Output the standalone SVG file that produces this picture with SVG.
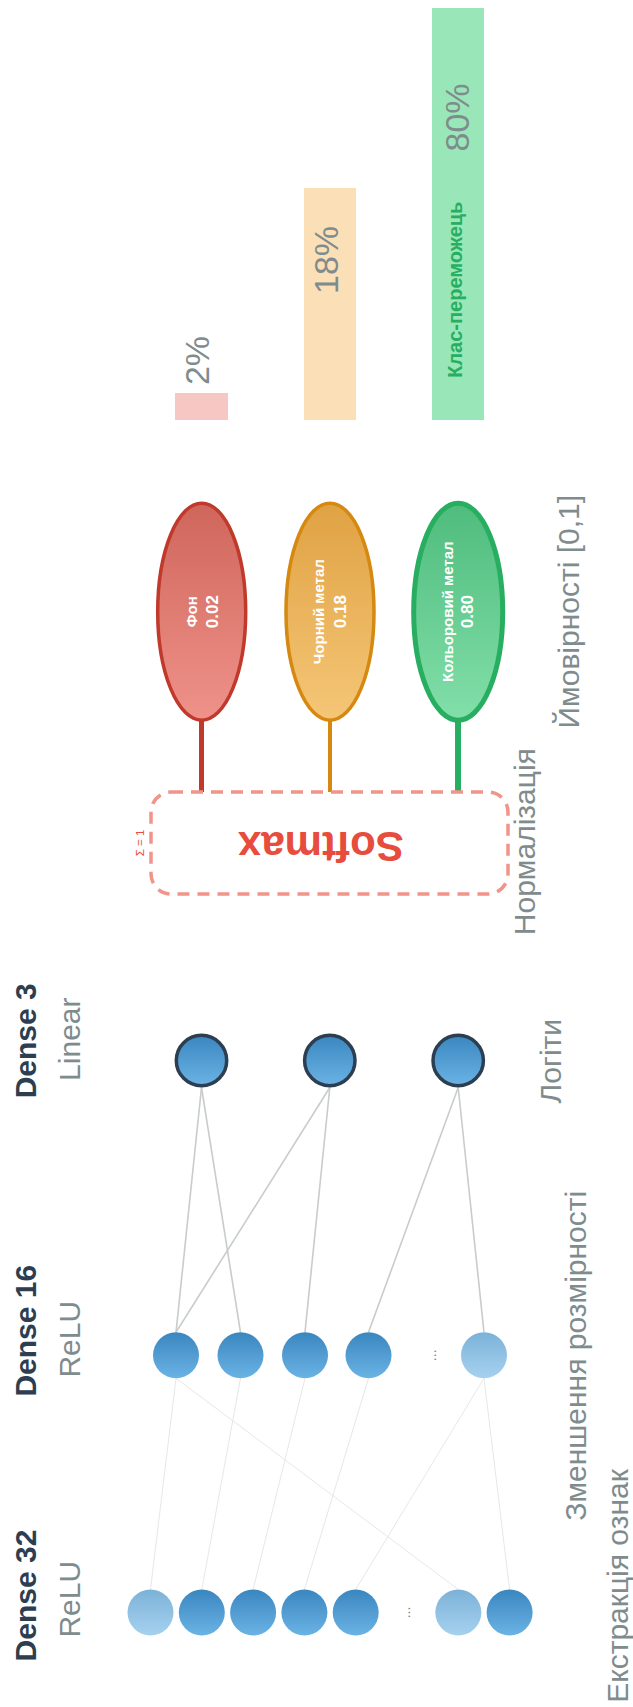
<svg xmlns="http://www.w3.org/2000/svg" width="633" height="1707" viewBox="0 0 633 1707">
  <defs>
    <linearGradient id="gNeuron" x1="0" y1="0" x2="0" y2="1">
      <stop offset="0" stop-color="#3a86bf"/>
      <stop offset="1" stop-color="#6ab3e5"/>
    </linearGradient>
    <linearGradient id="gNeuronDim" x1="0" y1="0" x2="0" y2="1">
      <stop offset="0" stop-color="#7cb2d8"/>
      <stop offset="1" stop-color="#a6d1ef"/>
    </linearGradient>
    <linearGradient id="gRed" x1="0" y1="0" x2="0" y2="1">
      <stop offset="0" stop-color="#cf665b"/>
      <stop offset="1" stop-color="#ef928a"/>
    </linearGradient>
    <linearGradient id="gOrange" x1="0" y1="0" x2="0" y2="1">
      <stop offset="0" stop-color="#e0a243"/>
      <stop offset="1" stop-color="#f5c677"/>
    </linearGradient>
    <linearGradient id="gGreen" x1="0" y1="0" x2="0" y2="1">
      <stop offset="0" stop-color="#4fbc7d"/>
      <stop offset="1" stop-color="#82dfa9"/>
    </linearGradient>
  </defs>
  <style>
    text { font-family: "Liberation Sans", Arial, sans-serif; }
    .layer { font-size: 30px; font-weight: bold; fill: #2c3e50; text-anchor: middle; }
    .act { font-size: 30px; fill: #7f8c8d; text-anchor: middle; }
    .note { font-size: 30px; fill: #7f8c8d; text-anchor: middle; }
    .pct { font-size: 34px; fill: #7f8c8d; text-anchor: middle; }
    .dots { font-size: 14px; fill: #7f8c8d; text-anchor: middle; }
    .cls { font-size: 15px; font-weight: bold; fill: #ffffff; text-anchor: middle; }
    .val { font-size: 17px; font-weight: bold; fill: #ffffff; text-anchor: middle; }
    .n { fill: url(#gNeuron); }
    .nd { fill: url(#gNeuronDim); }
    .logit { fill: url(#gNeuron); stroke: #2c3e50; stroke-width: 3.5; }
    .w1 { stroke: #e6e7e7; stroke-width: 1; }
    .w2 { stroke: #c9cccc; stroke-width: 1.6; }
  </style>

  <rect width="633" height="1707" fill="#ffffff"/>

  <!-- probability bars -->
  <g id="bars">
    <rect x="175" y="393" width="53" height="27" fill="#f6c7c3"/>
    <rect x="304" y="188" width="52" height="232" fill="#fbdfb6"/>
    <rect x="432" y="8" width="52" height="412" fill="#99e6b8"/>
    <text class="pct" transform="translate(209,360.5) rotate(-90)">2%</text>
    <text class="pct" transform="translate(338,260) rotate(-90)">18%</text>
    <text class="pct" transform="translate(469,117.5) rotate(-90)">80%</text>
    <text transform="translate(462,289.7) rotate(-90)" style="font-size:20px;font-weight:bold;fill:#27ae60;text-anchor:middle">Клас-переможець</text>
  </g>

  <!-- connectors -->
  <g id="connectors" fill="none">
    <!-- Dense 32 to Dense 16 -->
    <line class="w1" x1="150.5" y1="1589.5" x2="176" y2="1378.3"/>
    <line class="w1" x1="201.8" y1="1589.5" x2="240.5" y2="1378.3"/>
    <line class="w1" x1="253.1" y1="1589.5" x2="305" y2="1378.3"/>
    <line class="w1" x1="304.4" y1="1589.5" x2="368.5" y2="1378.3"/>
    <line class="w1" x1="355.7" y1="1589.5" x2="484" y2="1378.3"/>
    <line class="w1" x1="458.3" y1="1589.5" x2="176" y2="1378.3"/>
    <line class="w1" x1="509.6" y1="1589.5" x2="484" y2="1378.3"/>
    <!-- Dense 16 to Dense 3 -->
    <line class="w2" x1="176" y1="1332.3" x2="201.5" y2="1087.5"/>
    <line class="w2" x1="240.5" y1="1332.3" x2="201.5" y2="1087.5"/>
    <line class="w2" x1="176" y1="1332.3" x2="329.8" y2="1087.5"/>
    <line class="w2" x1="305" y1="1332.3" x2="329.8" y2="1087.5"/>
    <line class="w2" x1="368.5" y1="1332.3" x2="458.2" y2="1087.5"/>
    <line class="w2" x1="484" y1="1332.3" x2="458.2" y2="1087.5"/>
    <!-- class outputs to softmax -->
    <line x1="201.5" y1="718" x2="201.5" y2="792" stroke="#c0392b" stroke-width="5"/>
    <line x1="330" y1="718" x2="330" y2="792" stroke="#d68910" stroke-width="4"/>
    <line x1="458" y1="718" x2="458" y2="792" stroke="#27ae60" stroke-width="6"/>
  </g>

  <!-- Dense 32 layer -->
  <g id="dense32">
    <text class="layer" transform="translate(35.5,1595.5) rotate(-90)">Dense 32</text>
    <text class="act" transform="translate(79.5,1599.2) rotate(-90)">ReLU</text>
    <circle class="nd" cx="150.5" cy="1612.5" r="23"/>
    <circle class="n" cx="201.8" cy="1612.5" r="23"/>
    <circle class="n" cx="253.1" cy="1612.5" r="23"/>
    <circle class="n" cx="304.4" cy="1612.5" r="23"/>
    <circle class="n" cx="355.7" cy="1612.5" r="23"/>
    <text class="dots" transform="translate(410,1612.5) rotate(-90)">...</text>
    <circle class="nd" cx="458.3" cy="1612.5" r="23"/>
    <circle class="n" cx="509.6" cy="1612.5" r="23"/>
  </g>

  <!-- Dense 16 layer -->
  <g id="dense16">
    <text class="layer" transform="translate(35.5,1330.7) rotate(-90)">Dense 16</text>
    <text class="act" transform="translate(79.5,1339.2) rotate(-90)">ReLU</text>
    <circle class="n" cx="176" cy="1355.3" r="23"/>
    <circle class="n" cx="240.5" cy="1355.3" r="23"/>
    <circle class="n" cx="305" cy="1355.3" r="23"/>
    <circle class="n" cx="368.5" cy="1355.3" r="23"/>
    <text class="dots" transform="translate(436,1355.3) rotate(-90)">...</text>
    <circle class="nd" cx="484" cy="1355.3" r="23"/>
  </g>

  <!-- Dense 3 layer (logits) -->
  <g id="dense3">
    <text class="layer" transform="translate(36,1040.8) rotate(-90)">Dense 3</text>
    <text class="act" transform="translate(79.5,1039.2) rotate(-90)">Linear</text>
    <circle class="logit" cx="201.5" cy="1060.5" r="25.2"/>
    <circle class="logit" cx="329.8" cy="1060.5" r="25.2"/>
    <circle class="logit" cx="458.2" cy="1060.5" r="25.2"/>
  </g>

  <!-- Softmax block -->
  <g id="softmax">
    <rect x="151" y="792" width="357" height="102" rx="20" ry="20" fill="#ffffff" stroke="#f1948a" stroke-width="3.5" stroke-dasharray="12 8"/>
    <text transform="translate(320.8,832) rotate(180)" style="font-size:42px;font-weight:bold;fill:#e74c3c;text-anchor:middle">Softmax</text>
    <text transform="translate(143.5,843) rotate(-90)" style="font-size:11.5px;fill:#e74c3c;text-anchor:middle">Σ = 1</text>
  </g>

  <!-- class probability nodes -->
  <g id="class-background">
    <ellipse cx="201.7" cy="611.7" rx="44" ry="108.5" fill="url(#gRed)" stroke="#c0392b" stroke-width="3.5"/>
    <text class="cls" transform="translate(196.7,611.7) rotate(-90)">Фон</text>
    <text class="val" transform="translate(218,611.7) rotate(-90)">0.02</text>
  </g>
  <g id="class-ferrous">
    <ellipse cx="330" cy="611.7" rx="44" ry="108.5" fill="url(#gOrange)" stroke="#d68910" stroke-width="3.5"/>
    <text class="cls" transform="translate(323.5,611.7) rotate(-90)">Чорний метал</text>
    <text class="val" transform="translate(345.5,611.7) rotate(-90)">0.18</text>
  </g>
  <g id="class-nonferrous">
    <ellipse cx="458.2" cy="611.7" rx="44.5" ry="108.5" fill="url(#gGreen)" stroke="#27ae60" stroke-width="5"/>
    <text class="cls" transform="translate(453.3,611.7) rotate(-90)">Кольоровий метал</text>
    <text class="val" transform="translate(473.3,611.7) rotate(-90)">0.80</text>
  </g>

  <!-- stage captions -->
  <g id="captions">
    <text class="note" transform="translate(628,1586) rotate(-90)">Екстракція ознак</text>
    <text class="note" transform="translate(586,1355.8) rotate(-90)">Зменшення розмірності</text>
    <text class="note" transform="translate(561,1061.2) rotate(-90)">Логіти</text>
    <text class="note" transform="translate(535,841.7) rotate(-90)">Нормалізація</text>
    <text class="note" transform="translate(579,611.7) rotate(-90)">Ймовірності [0,1]</text>
  </g>
</svg>
